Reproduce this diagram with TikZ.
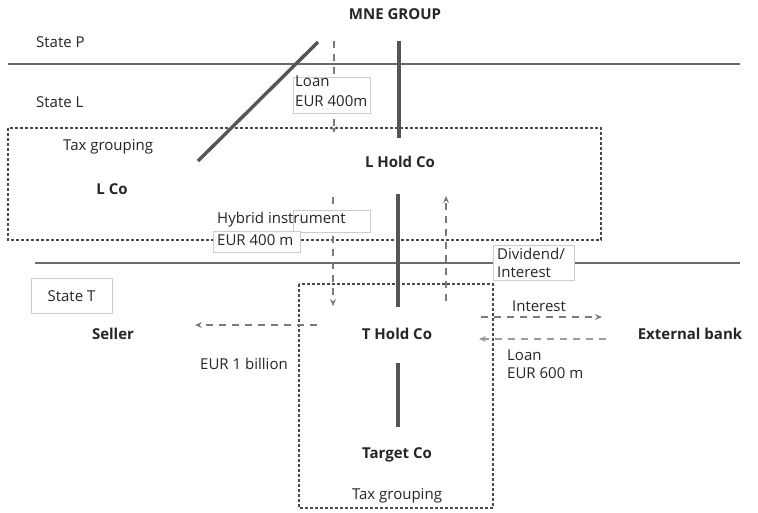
\documentclass[tikz,border=0pt]{standalone}
\usepackage{fontspec}
\setmainfont{Open Sans}
\usetikzlibrary{arrows.meta}
\definecolor{txt}{HTML}{262626}
\definecolor{statecol}{HTML}{6A6A6A}
\definecolor{thickcol}{HTML}{555555}
\definecolor{grpcol}{HTML}{4A4A4A}
\definecolor{flowcol}{HTML}{7A7A7A}
\definecolor{flowlight}{HTML}{9A9A9A}
\definecolor{boxcol}{HTML}{CCCCCC}
\tikzset{
  lbl/.style={font=\fontsize{15}{19}\selectfont, text=txt, inner sep=0pt, align=left},
  co/.style={font=\fontsize{15}{18}\selectfont\bfseries, text=txt, inner sep=0pt},
  stateline/.style={draw=statecol, line width=1.8pt},
  own/.style={draw=thickcol, line width=3.6pt},
  grp/.style={draw=grpcol, line width=1.4pt, dash pattern=on 3pt off 2pt},
  flow/.style={draw=flowcol, line width=1.3pt, dash pattern=on 7pt off 6pt, -{Stealth[length=7pt,width=6pt,inset=2.5pt]}},
  flowl/.style={flow, draw=flowlight},
  tbox/.style={draw=boxcol, line width=0.8pt, fill=white},
}
\begin{document}
\begin{tikzpicture}[x=1pt,y=-1pt]
\useasboundingbox (0,0) rectangle (758,512);
\fill[white] (0,0) rectangle (758,512);

% state borders
\coordinate (pL) at (8,64);  \coordinate (pR) at (740,64);
\coordinate (tL) at (35,263); \coordinate (tR) at (740,263);
\draw[stateline] (pL) -- (pR);
\draw[stateline] (tL) -- (tR);

% tax grouping boxes
\coordinate (gL1) at (8,128);  \coordinate (gL2) at (601,240);
\coordinate (gT1) at (299,284); \coordinate (gT2) at (493,508);
\draw[grp] (gL1) rectangle (gL2);
\draw[grp] (gT1) rectangle (gT2);

% company nodes
\node[co] (mne) at (395,14) {MNE GROUP};
\node[co] (lco) at (112,189) {L Co};
\node[co] (lhold) at (400,162) {L Hold Co};
\node[co] (seller) at (113,334) {Seller};
\node[co] (thold) at (397,334) {T Hold Co};
\node[co] (target) at (397,455) {Target Co};
\node[co] (bank) at (690,334) {External bank};

% ownership lines
\coordinate (o1a) at (399,41);  \coordinate (o1b) at (399,138);
\coordinate (o2a) at (398,194); \coordinate (o2b) at (398,307);
\coordinate (o3a) at (398,363); \coordinate (o3b) at (398,427);
\draw[own] (o1a) -- (o1b);
\draw[own] (o2a) -- (o2b);
\draw[own] (o3a) -- (o3b);
\coordinate (dgA) at (318,42); \coordinate (dgB) at (198,161);
\draw[own, line width=3.4pt] (dgA) -- (dgB);

% flows
\coordinate (ln1a) at (334,41);  \coordinate (ln1b) at (334,133);
\coordinate (ln2a) at (333,197); \coordinate (ln2b) at (333,306);
\coordinate (dva) at (446,301);  \coordinate (dvb) at (446,196);
\coordinate (sla) at (317,325);  \coordinate (slb) at (195,325);
\coordinate (ina) at (481,317);  \coordinate (inb) at (602,317);
\coordinate (lba) at (606,339);  \coordinate (lbb) at (479,339);
\draw[flow] (ln1a) -- (ln1b);
\draw[flow] (ln2a) -- (ln2b);
\draw[flow] (dva) -- (dvb);
\draw[flow] (sla) -- (slb);
\draw[flow] (ina) -- (inb);
\draw[flowl] (lba) -- (lbb);

% label boxes
\node[tbox, anchor=north west, minimum width=77pt, minimum height=36pt, inner sep=0pt] (loanbox) at (293,77) {};
\node[lbl, anchor=north west, font=\fontsize{15}{20}\selectfont] (loantxt) at (295,76) {Loan\\EUR 400m};
\node[tbox, anchor=north west, minimum width=77pt, minimum height=22pt, inner sep=0pt] (hybbox) at (293,210) {};
\node[tbox, anchor=north west, minimum width=87pt, minimum height=21pt, inner sep=0pt] (eurbox) at (213,231) {};
\node[lbl, anchor=west] (hybtxt) at (217,220) {Hybrid instrument};
\node[lbl, anchor=west] (eurtxt) at (217,240) {EUR 400 m};
\node[tbox, anchor=north west, minimum width=81pt, minimum height=35pt, inner sep=0pt] (divbox) at (493,245) {};
\node[lbl, anchor=north west, font=\fontsize{15}{18}\selectfont] (divtxt) at (497,248) {Dividend/\\Interest};
\node[tbox, minimum width=81pt, minimum height=35pt, inner sep=0pt] (stTbox) at (71.5,296) {};
\node[lbl] (stT) at (71.5,296) {State T};

% other labels
\node[lbl, anchor=west] (stP) at (36,42) {State P};
\node[lbl, anchor=west] (stL) at (36,102) {State L};
\node[lbl, anchor=west] (tgL) at (63,147) {Tax grouping};
\node[lbl] (bil) at (244,364) {EUR 1 billion};
\node[lbl] (int) at (539,306) {Interest};
\node[lbl, anchor=north west, font=\fontsize{15}{18}\selectfont] (loan6) at (507,350) {Loan\\EUR 600 m};
\node[lbl] (tgT) at (397,496) {Tax grouping};
\end{tikzpicture}
\end{document}
